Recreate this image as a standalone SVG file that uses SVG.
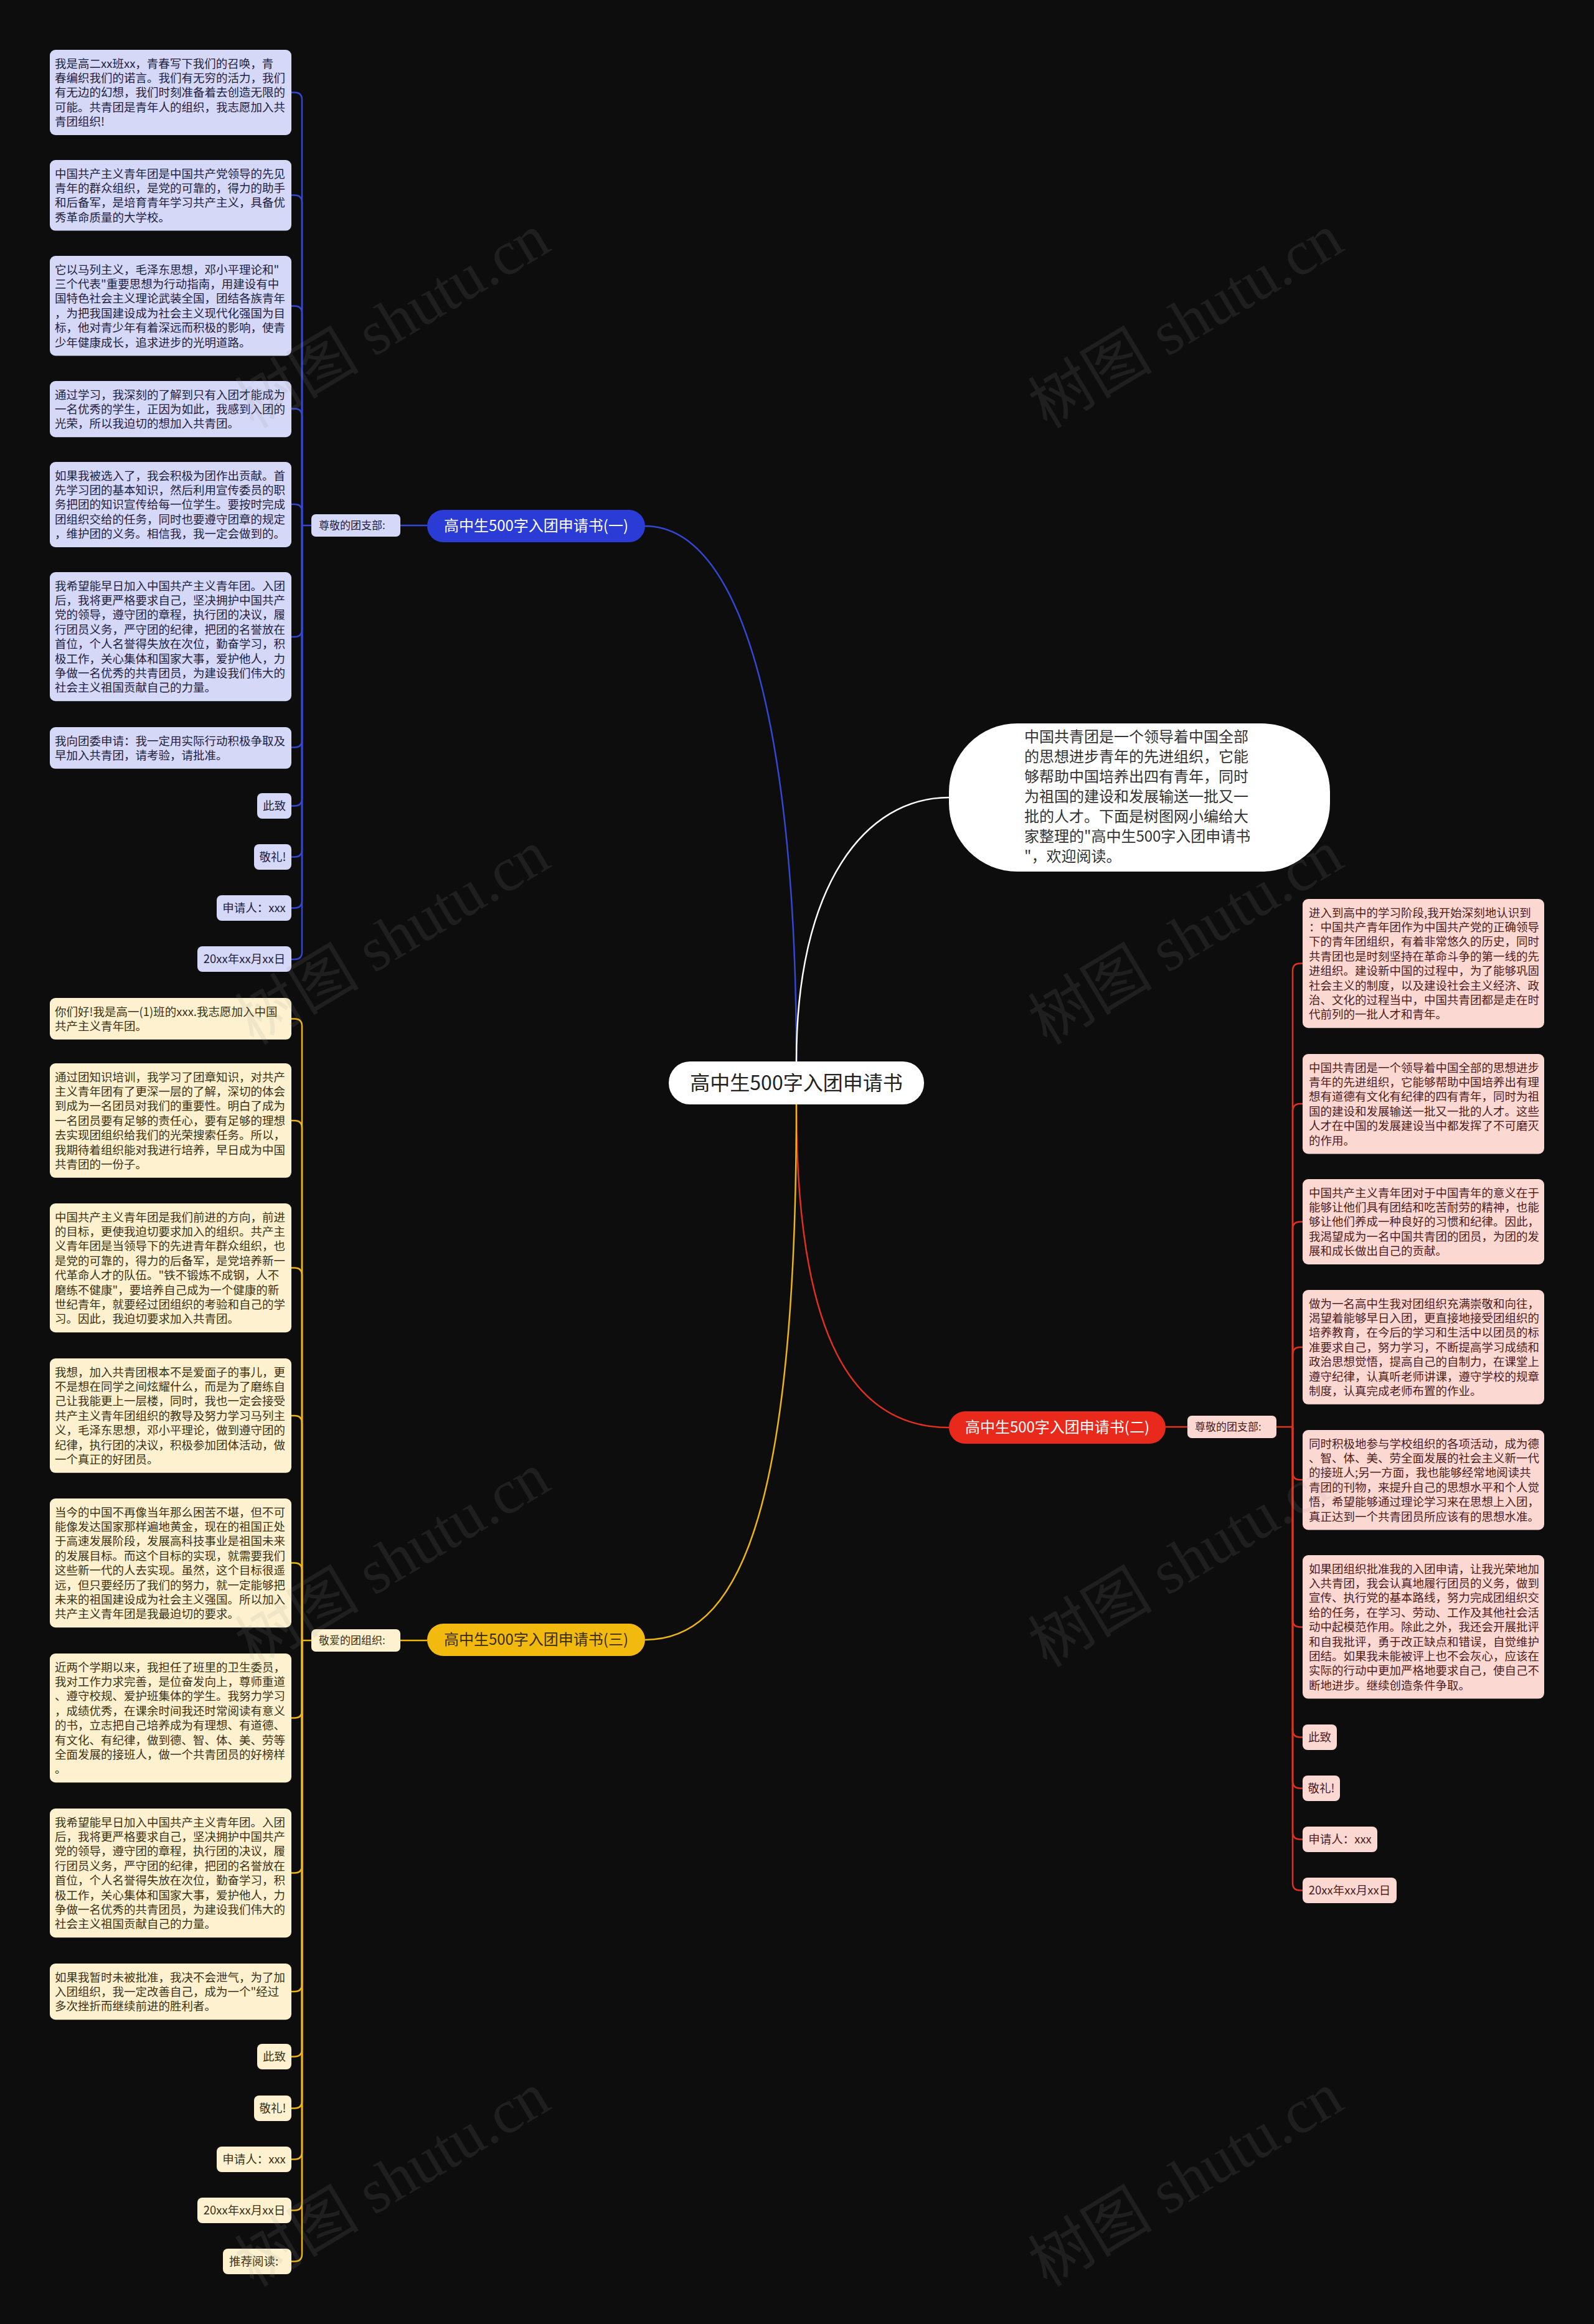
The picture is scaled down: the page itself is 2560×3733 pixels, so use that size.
<svg xmlns="http://www.w3.org/2000/svg" width="2560" height="3733" viewBox="0 0 2560 3733">
<style>
text{font-family:"Noto Sans CJK SC","Noto Sans",sans-serif}
.t{font-size:18.5px}
.bt{fill:#1f2140}.yt{fill:#3b3115}.rt{fill:#4d1c1c}
.bb{fill:#D5D8F7}.yb{fill:#FDF1CF}.rb{fill:#FCD8D3}
.lb{stroke:#3347D2;stroke-width:2.5;fill:none}
.ly{stroke:#EDB514;stroke-width:2.5;fill:none}
.lr{stroke:#E0301E;stroke-width:2.5;fill:none}
.lw{stroke:#ffffff;stroke-width:2.5;fill:none}
.wm{font-family:"Liberation Serif","Noto Sans CJK SC",serif;font-size:100px;fill:#9a9a9a;opacity:0.13}
</style>
<rect x="0" y="0" width="2560" height="3733" fill="#0d0d0d"/>

<g id="connectors">
<path class="lb" d="M1036,845 C1200,845 1279,1200 1279,1705"/>
<path class="lw" d="M1279,1705 C1279,1420 1390,1281 1524,1281"/>
<path class="lr" d="M1279,1774 C1279,2150 1370,2293 1524,2293"/>
<path class="ly" d="M1279,1774 C1279,2450 1180,2634 1036,2634"/>
<path class="lb" d="M643,844 H686"/>
<path class="lr" d="M1872,2292 H1907"/>
<path class="ly" d="M643,2635 H686"/>
<path class="lb" d="M500,844 H485"/>
<path class="lb" d="M485,844 V160.5 Q485,148.5 473,148.5 H468"/>
<path class="lb" d="M485,844 V325.5 Q485,313.5 473,313.5 H468"/>
<path class="lb" d="M485,844 V503.5 Q485,491.5 473,491.5 H468"/>
<path class="lb" d="M485,844 V668.5 Q485,656.5 473,656.5 H468"/>
<path class="lb" d="M485,844 V822 Q485,810 473,810 H468"/>
<path class="lb" d="M485,844 V1011 Q485,1023 473,1023 H468"/>
<path class="lb" d="M485,844 V1188.5 Q485,1200.5 473,1200.5 H468"/>
<path class="lb" d="M485,844 V1282.5 Q485,1294.5 473,1294.5 H468"/>
<path class="lb" d="M485,844 V1364.5 Q485,1376.5 473,1376.5 H468"/>
<path class="lb" d="M485,844 V1446.5 Q485,1458.5 473,1458.5 H468"/>
<path class="lb" d="M485,844 V1529 Q485,1541 473,1541 H468"/>
<path class="ly" d="M500,2635 H485"/>
<path class="ly" d="M485,2635 V1648.5 Q485,1636.5 473,1636.5 H468"/>
<path class="ly" d="M485,2635 V1812 Q485,1800 473,1800 H468"/>
<path class="ly" d="M485,2635 V2048.5 Q485,2036.5 473,2036.5 H468"/>
<path class="ly" d="M485,2635 V2286 Q485,2274 473,2274 H468"/>
<path class="ly" d="M485,2635 V2522.5 Q485,2510.5 473,2510.5 H468"/>
<path class="ly" d="M485,2635 V2747.5 Q485,2759.5 473,2759.5 H468"/>
<path class="ly" d="M485,2635 V2996.5 Q485,3008.5 473,3008.5 H468"/>
<path class="ly" d="M485,2635 V3187 Q485,3199 473,3199 H468"/>
<path class="ly" d="M485,2635 V3291.5 Q485,3303.5 473,3303.5 H468"/>
<path class="ly" d="M485,2635 V3374.5 Q485,3386.5 473,3386.5 H468"/>
<path class="ly" d="M485,2635 V3456.5 Q485,3468.5 473,3468.5 H468"/>
<path class="ly" d="M485,2635 V3538.5 Q485,3550.5 473,3550.5 H468"/>
<path class="ly" d="M485,2635 V3620.5 Q485,3632.5 473,3632.5 H468"/>
<path class="lr" d="M2050,2292 H2076"/>
<path class="lr" d="M2076,2292 V1559.5 Q2076,1547.5 2088,1547.5 H2092"/>
<path class="lr" d="M2076,2292 V1785 Q2076,1773 2088,1773 H2092"/>
<path class="lr" d="M2076,2292 V1974.5 Q2076,1962.5 2088,1962.5 H2092"/>
<path class="lr" d="M2076,2292 V2176 Q2076,2164 2088,2164 H2092"/>
<path class="lr" d="M2076,2292 V2365 Q2076,2377 2088,2377 H2092"/>
<path class="lr" d="M2076,2292 V2601.5 Q2076,2613.5 2088,2613.5 H2092"/>
<path class="lr" d="M2076,2292 V2778.5 Q2076,2790.5 2088,2790.5 H2092"/>
<path class="lr" d="M2076,2292 V2860.5 Q2076,2872.5 2088,2872.5 H2092"/>
<path class="lr" d="M2076,2292 V2942.5 Q2076,2954.5 2088,2954.5 H2092"/>
<path class="lr" d="M2076,2292 V3024.5 Q2076,3036.5 2088,3036.5 H2092"/>
</g>

<g id="center">
<rect x="1074" y="1705" width="410" height="69" rx="34" fill="#ffffff"/>
<text x="1279" y="1751" font-size="32" text-anchor="middle" fill="#222">高中生500字入团申请书</text>
</g>

<g id="intro">
<rect x="1524" y="1162" width="612" height="238" rx="110" fill="#ffffff"/>
<text font-size="24" fill="#333">
<tspan x="1645" y="1192">中国共青团是一个领导着中国全部</tspan>
<tspan x="1645" y="1224">的思想进步青年的先进组织，它能</tspan>
<tspan x="1645" y="1256">够帮助中国培养出四有青年，同时</tspan>
<tspan x="1645" y="1288">为祖国的建设和发展输送一批又一</tspan>
<tspan x="1645" y="1320">批的人才。下面是树图网小编给大</tspan>
<tspan x="1645" y="1352">家整理的"高中生500字入团申请书</tspan>
<tspan x="1645" y="1384">"，欢迎阅读。</tspan>
</text>
</g>

<g id="branch1">
<rect x="686" y="819" width="350" height="52" rx="26" fill="#2B3BD6"/>
<text x="861" y="853" font-size="24" text-anchor="middle" fill="#ffffff">高中生500字入团申请书(一)</text>
</g>
<g id="label1">
<rect x="500" y="826" width="143" height="36" rx="7" class="bb"/>
<text x="512" y="850" font-size="17" class="bt">尊敬的团支部:</text>
</g>

<g id="branch2">
<rect x="1524" y="2267" width="348" height="52" rx="26" fill="#E8291C"/>
<text x="1698" y="2301" font-size="24" text-anchor="middle" fill="#ffffff">高中生500字入团申请书(二)</text>
</g>
<g id="label2">
<rect x="1907" y="2274" width="143" height="36" rx="7" class="rb"/>
<text x="1919" y="2298" font-size="17" class="rt">尊敬的团支部:</text>
</g>

<g id="branch3">
<rect x="686" y="2608" width="350" height="52" rx="26" fill="#F2B90F"/>
<text x="861" y="2642" font-size="24" text-anchor="middle" fill="#3a2d05">高中生500字入团申请书(三)</text>
</g>
<g id="label3">
<rect x="500" y="2617" width="143" height="36" rx="7" class="yb"/>
<text x="512" y="2641" font-size="17" class="yt">敬爱的团组织:</text>
</g>

<g id="b1">
<rect x="80" y="80" width="388" height="137" rx="9" class="bb"/>
<text class="t bt"><tspan x="88" y="108.5">我是高二xx班xx，青春写下我们的召唤，青</tspan><tspan x="88" y="131.9">春编织我们的诺言。我们有无穷的活力，我们</tspan><tspan x="88" y="155.3">有无边的幻想，我们时刻准备着去创造无限的</tspan><tspan x="88" y="178.7">可能。共青团是青年人的组织，我志愿加入共</tspan><tspan x="88" y="202.1">青团组织!</tspan></text>
</g>
<g id="b2">
<rect x="80" y="257" width="388" height="113.6" rx="9" class="bb"/>
<text class="t bt"><tspan x="88" y="285.5">中国共产主义青年团是中国共产党领导的先见</tspan><tspan x="88" y="308.9">青年的群众组织，是党的可靠的，得力的助手</tspan><tspan x="88" y="332.3">和后备军，是培育青年学习共产主义，具备优</tspan><tspan x="88" y="355.7">秀革命质量的大学校。</tspan></text>
</g>
<g id="b3">
<rect x="80" y="411" width="388" height="160.4" rx="9" class="bb"/>
<text class="t bt"><tspan x="88" y="439.5">它以马列主义，毛泽东思想，邓小平理论和"</tspan><tspan x="88" y="462.9">三个代表"重要思想为行动指南，用建设有中</tspan><tspan x="88" y="486.3">国特色社会主义理论武装全国，团结各族青年</tspan><tspan x="88" y="509.7">，为把我国建设成为社会主义现代化强国为目</tspan><tspan x="88" y="533.1">标，他对青少年有着深远而积极的影响，使青</tspan><tspan x="88" y="556.5">少年健康成长，追求进步的光明道路。</tspan></text>
</g>
<g id="b4">
<rect x="80" y="612" width="388" height="90.2" rx="9" class="bb"/>
<text class="t bt"><tspan x="88" y="640.5">通过学习，我深刻的了解到只有入团才能成为</tspan><tspan x="88" y="663.9">一名优秀的学生，正因为如此，我感到入团的</tspan><tspan x="88" y="687.3">光荣，所以我迫切的想加入共青团。</tspan></text>
</g>
<g id="b5">
<rect x="80" y="742" width="388" height="137" rx="9" class="bb"/>
<text class="t bt"><tspan x="88" y="770.5">如果我被选入了，我会积极为团作出贡献。首</tspan><tspan x="88" y="793.9">先学习团的基本知识，然后利用宣传委员的职</tspan><tspan x="88" y="817.3">务把团的知识宣传给每一位学生。要按时完成</tspan><tspan x="88" y="840.7">团组织交给的任务，同时也要遵守团章的规定</tspan><tspan x="88" y="864.1">，维护团的义务。相信我，我一定会做到的。</tspan></text>
</g>
<g id="b6">
<rect x="80" y="919" width="388" height="207.2" rx="9" class="bb"/>
<text class="t bt"><tspan x="88" y="947.5">我希望能早日加入中国共产主义青年团。入团</tspan><tspan x="88" y="970.9">后，我将更严格要求自己，坚决拥护中国共产</tspan><tspan x="88" y="994.3">党的领导，遵守团的章程，执行团的决议，履</tspan><tspan x="88" y="1017.7">行团员义务，严守团的纪律，把团的名誉放在</tspan><tspan x="88" y="1041.1">首位，个人名誉得失放在次位，勤奋学习，积</tspan><tspan x="88" y="1064.5">极工作，关心集体和国家大事，爱护他人，力</tspan><tspan x="88" y="1087.9">争做一名优秀的共青团员，为建设我们伟大的</tspan><tspan x="88" y="1111.3">社会主义祖国贡献自己的力量。</tspan></text>
</g>
<g id="b7">
<rect x="80" y="1168" width="388" height="66.8" rx="9" class="bb"/>
<text class="t bt"><tspan x="88" y="1196.5">我向团委申请：我一定用实际行动积极争取及</tspan><tspan x="88" y="1219.9">早加入共青团，请考验，请批准。</tspan></text>
</g>
<g id="b8"><rect x="413" y="1274" width="55" height="41" rx="8" class="bb"/><text class="t bt" x="440.5" y="1301" text-anchor="middle">此致</text></g>
<g id="b9"><rect x="408" y="1356" width="60" height="41" rx="8" class="bb"/><text class="t bt" x="438" y="1383" text-anchor="middle">敬礼!</text></g>
<g id="b10"><rect x="348" y="1438" width="120" height="41" rx="8" class="bb"/><text class="t bt" x="408" y="1465" text-anchor="middle">申请人：xxx</text></g>
<g id="b11"><rect x="317" y="1520" width="151" height="41" rx="8" class="bb"/><text class="t bt" x="392.5" y="1547" text-anchor="middle">20xx年xx月xx日</text></g>

<g id="y1">
<rect x="80" y="1603" width="388" height="66.8" rx="9" class="yb"/>
<text class="t yt"><tspan x="88" y="1631.5">你们好!我是高一(1)班的xxx.我志愿加入中国</tspan><tspan x="88" y="1654.9">共产主义青年团。</tspan></text>
</g>
<g id="y2">
<rect x="80" y="1708" width="388" height="183.8" rx="9" class="yb"/>
<text class="t yt"><tspan x="88" y="1736.5">通过团知识培训，我学习了团章知识，对共产</tspan><tspan x="88" y="1759.9">主义青年团有了更深一层的了解，深切的体会</tspan><tspan x="88" y="1783.3">到成为一名团员对我们的重要性。明白了成为</tspan><tspan x="88" y="1806.7">一名团员要有足够的责任心，要有足够的理想</tspan><tspan x="88" y="1830.1">去实现团组织给我们的光荣搜索任务。所以，</tspan><tspan x="88" y="1853.5">我期待着组织能对我进行培养，早日成为中国</tspan><tspan x="88" y="1876.9">共青团的一份子。</tspan></text>
</g>
<g id="y3">
<rect x="80" y="1933" width="388" height="207.2" rx="9" class="yb"/>
<text class="t yt"><tspan x="88" y="1961.5">中国共产主义青年团是我们前进的方向，前进</tspan><tspan x="88" y="1984.9">的目标，更使我迫切要求加入的组织。共产主</tspan><tspan x="88" y="2008.3">义青年团是当领导下的先进青年群众组织，也</tspan><tspan x="88" y="2031.7">是党的可靠的，得力的后备军，是党培养新一</tspan><tspan x="88" y="2055.1">代革命人才的队伍。"铁不锻炼不成钢，人不</tspan><tspan x="88" y="2078.5">磨练不健康"，要培养自己成为一个健康的新</tspan><tspan x="88" y="2101.9">世纪青年，就要经过团组织的考验和自己的学</tspan><tspan x="88" y="2125.3">习。因此，我迫切要求加入共青团。</tspan></text>
</g>
<g id="y4">
<rect x="80" y="2182" width="388" height="183.8" rx="9" class="yb"/>
<text class="t yt"><tspan x="88" y="2210.5">我想，加入共青团根本不是爱面子的事儿，更</tspan><tspan x="88" y="2233.9">不是想在同学之间炫耀什么，而是为了磨练自</tspan><tspan x="88" y="2257.3">己让我能更上一层楼，同时，我也一定会接受</tspan><tspan x="88" y="2280.7">共产主义青年团组织的教导及努力学习马列主</tspan><tspan x="88" y="2304.1">义，毛泽东思想，邓小平理论，做到遵守团的</tspan><tspan x="88" y="2327.5">纪律，执行团的决议，积极参加团体活动，做</tspan><tspan x="88" y="2350.9">一个真正的好团员。</tspan></text>
</g>
<g id="y5">
<rect x="80" y="2407" width="388" height="207.2" rx="9" class="yb"/>
<text class="t yt"><tspan x="88" y="2435.5">当今的中国不再像当年那么困苦不堪，但不可</tspan><tspan x="88" y="2458.9">能像发达国家那样遍地黄金，现在的祖国正处</tspan><tspan x="88" y="2482.3">于高速发展阶段，发展高科技事业是祖国未来</tspan><tspan x="88" y="2505.7">的发展目标。而这个目标的实现，就需要我们</tspan><tspan x="88" y="2529.1">这些新一代的人去实现。虽然，这个目标很遥</tspan><tspan x="88" y="2552.5">远，但只要经历了我们的努力，就一定能够把</tspan><tspan x="88" y="2575.9">未来的祖国建设成为社会主义强国。所以加入</tspan><tspan x="88" y="2599.3">共产主义青年团是我最迫切的要求。</tspan></text>
</g>
<g id="y6">
<rect x="80" y="2656" width="388" height="207.2" rx="9" class="yb"/>
<text class="t yt"><tspan x="88" y="2684.5">近两个学期以来，我担任了班里的卫生委员，</tspan><tspan x="88" y="2707.9">我对工作力求完善，是位奋发向上，尊师重道</tspan><tspan x="88" y="2731.3">、遵守校规、爱护班集体的学生。我努力学习</tspan><tspan x="88" y="2754.7">，成绩优秀，在课余时间我还时常阅读有意义</tspan><tspan x="88" y="2778.1">的书，立志把自己培养成为有理想、有道德、</tspan><tspan x="88" y="2801.5">有文化、有纪律，做到德、智、体、美、劳等</tspan><tspan x="88" y="2824.9">全面发展的接班人，做一个共青团员的好榜样</tspan><tspan x="88" y="2848.3">。</tspan></text>
</g>
<g id="y7">
<rect x="80" y="2905" width="388" height="207.2" rx="9" class="yb"/>
<text class="t yt"><tspan x="88" y="2933.5">我希望能早日加入中国共产主义青年团。入团</tspan><tspan x="88" y="2956.9">后，我将更严格要求自己，坚决拥护中国共产</tspan><tspan x="88" y="2980.3">党的领导，遵守团的章程，执行团的决议，履</tspan><tspan x="88" y="3003.7">行团员义务，严守团的纪律，把团的名誉放在</tspan><tspan x="88" y="3027.1">首位，个人名誉得失放在次位，勤奋学习，积</tspan><tspan x="88" y="3050.5">极工作，关心集体和国家大事，爱护他人，力</tspan><tspan x="88" y="3073.9">争做一名优秀的共青团员，为建设我们伟大的</tspan><tspan x="88" y="3097.3">社会主义祖国贡献自己的力量。</tspan></text>
</g>
<g id="y8">
<rect x="80" y="3154" width="388" height="90.2" rx="9" class="yb"/>
<text class="t yt"><tspan x="88" y="3182.5">如果我暂时未被批准，我决不会泄气，为了加</tspan><tspan x="88" y="3205.9">入团组织，我一定改善自己，成为一个"经过</tspan><tspan x="88" y="3229.3">多次挫折而继续前进的胜利者。</tspan></text>
</g>
<g id="y9"><rect x="413" y="3283" width="55" height="41" rx="8" class="yb"/><text class="t yt" x="440.5" y="3310" text-anchor="middle">此致</text></g>
<g id="y10"><rect x="408" y="3366" width="60" height="41" rx="8" class="yb"/><text class="t yt" x="438" y="3393" text-anchor="middle">敬礼!</text></g>
<g id="y11"><rect x="348" y="3448" width="120" height="41" rx="8" class="yb"/><text class="t yt" x="408" y="3475" text-anchor="middle">申请人：xxx</text></g>
<g id="y12"><rect x="317" y="3530" width="151" height="41" rx="8" class="yb"/><text class="t yt" x="392.5" y="3557" text-anchor="middle">20xx年xx月xx日</text></g>
<g id="y13"><rect x="358" y="3612" width="110" height="41" rx="8" class="yb"/><text class="t yt" x="368" y="3639">推荐阅读:</text></g>

<g id="r1">
<rect x="2092" y="1444" width="388" height="207.2" rx="9" class="rb"/>
<text class="t rt"><tspan x="2102" y="1472.5">进入到高中的学习阶段,我开始深刻地认识到</tspan><tspan x="2102" y="1495.9">：中国共产青年团作为中国共产党的正确领导</tspan><tspan x="2102" y="1519.3">下的青年团组织，有着非常悠久的历史，同时</tspan><tspan x="2102" y="1542.7">共青团也是时刻坚持在革命斗争的第一线的先</tspan><tspan x="2102" y="1566.1">进组织。建设新中国的过程中，为了能够巩固</tspan><tspan x="2102" y="1589.5">社会主义的制度，以及建设社会主义经济、政</tspan><tspan x="2102" y="1612.9">治、文化的过程当中，中国共青团都是走在时</tspan><tspan x="2102" y="1636.3">代前列的一批人才和青年。</tspan></text>
</g>
<g id="r2">
<rect x="2092" y="1693" width="388" height="160.4" rx="9" class="rb"/>
<text class="t rt"><tspan x="2102" y="1721.5">中国共青团是一个领导着中国全部的思想进步</tspan><tspan x="2102" y="1744.9">青年的先进组织，它能够帮助中国培养出有理</tspan><tspan x="2102" y="1768.3">想有道德有文化有纪律的四有青年，同时为祖</tspan><tspan x="2102" y="1791.7">国的建设和发展输送一批又一批的人才。这些</tspan><tspan x="2102" y="1815.1">人才在中国的发展建设当中都发挥了不可磨灭</tspan><tspan x="2102" y="1838.5">的作用。</tspan></text>
</g>
<g id="r3">
<rect x="2092" y="1894" width="388" height="137" rx="9" class="rb"/>
<text class="t rt"><tspan x="2102" y="1922.5">中国共产主义青年团对于中国青年的意义在于</tspan><tspan x="2102" y="1945.9">能够让他们具有团结和吃苦耐劳的精神，也能</tspan><tspan x="2102" y="1969.3">够让他们养成一种良好的习惯和纪律。因此，</tspan><tspan x="2102" y="1992.7">我渴望成为一名中国共青团的团员，为团的发</tspan><tspan x="2102" y="2016.1">展和成长做出自己的贡献。</tspan></text>
</g>
<g id="r4">
<rect x="2092" y="2072" width="388" height="183.8" rx="9" class="rb"/>
<text class="t rt"><tspan x="2102" y="2100.5">做为一名高中生我对团组织充满崇敬和向往，</tspan><tspan x="2102" y="2123.9">渴望着能够早日入团，更直接地接受团组织的</tspan><tspan x="2102" y="2147.3">培养教育，在今后的学习和生活中以团员的标</tspan><tspan x="2102" y="2170.7">准要求自己，努力学习，不断提高学习成绩和</tspan><tspan x="2102" y="2194.1">政治思想觉悟，提高自己的自制力，在课堂上</tspan><tspan x="2102" y="2217.5">遵守纪律，认真听老师讲课，遵守学校的规章</tspan><tspan x="2102" y="2240.9">制度，认真完成老师布置的作业。</tspan></text>
</g>
<g id="r5">
<rect x="2092" y="2297" width="388" height="160.4" rx="9" class="rb"/>
<text class="t rt"><tspan x="2102" y="2325.5">同时积极地参与学校组织的各项活动，成为德</tspan><tspan x="2102" y="2348.9">、智、体、美、劳全面发展的社会主义新一代</tspan><tspan x="2102" y="2372.3">的接班人;另一方面，我也能够经常地阅读共</tspan><tspan x="2102" y="2395.7">青团的刊物，来提升自己的思想水平和个人觉</tspan><tspan x="2102" y="2419.1">悟，希望能够通过理论学习来在思想上入团，</tspan><tspan x="2102" y="2442.5">真正达到一个共青团员所应该有的思想水准。</tspan></text>
</g>
<g id="r6">
<rect x="2092" y="2498" width="388" height="230.6" rx="9" class="rb"/>
<text class="t rt"><tspan x="2102" y="2526.5">如果团组织批准我的入团申请，让我光荣地加</tspan><tspan x="2102" y="2549.9">入共青团，我会认真地履行团员的义务，做到</tspan><tspan x="2102" y="2573.3">宣传、执行党的基本路线，努力完成团组织交</tspan><tspan x="2102" y="2596.7">给的任务，在学习、劳动、工作及其他社会活</tspan><tspan x="2102" y="2620.1">动中起模范作用。除此之外，我还会开展批评</tspan><tspan x="2102" y="2643.5">和自我批评，勇于改正缺点和错误，自觉维护</tspan><tspan x="2102" y="2666.9">团结。如果我未能被评上也不会灰心，应该在</tspan><tspan x="2102" y="2690.3">实际的行动中更加严格地要求自己，使自己不</tspan><tspan x="2102" y="2713.7">断地进步。继续创造条件争取。</tspan></text>
</g>
<g id="r7"><rect x="2092" y="2770" width="55" height="41" rx="8" class="rb"/><text class="t rt" x="2119.5" y="2797" text-anchor="middle">此致</text></g>
<g id="r8"><rect x="2092" y="2852" width="60" height="41" rx="8" class="rb"/><text class="t rt" x="2122" y="2879" text-anchor="middle">敬礼!</text></g>
<g id="r9"><rect x="2092" y="2934" width="120" height="41" rx="8" class="rb"/><text class="t rt" x="2152" y="2961" text-anchor="middle">申请人：xxx</text></g>
<g id="r10"><rect x="2092" y="3016" width="151" height="41" rx="8" class="rb"/><text class="t rt" x="2167.5" y="3043" text-anchor="middle">20xx年xx月xx日</text></g>

<g id="watermarks">
<text class="wm" text-anchor="middle" transform="translate(648,545) rotate(-31)">树图 shutu.cn</text>
<text class="wm" text-anchor="middle" transform="translate(1922,545) rotate(-31)">树图 shutu.cn</text>
<text class="wm" text-anchor="middle" transform="translate(648,1535) rotate(-31)">树图 shutu.cn</text>
<text class="wm" text-anchor="middle" transform="translate(1922,1535) rotate(-31)">树图 shutu.cn</text>
<text class="wm" text-anchor="middle" transform="translate(648,2535) rotate(-31)">树图 shutu.cn</text>
<text class="wm" text-anchor="middle" transform="translate(1922,2535) rotate(-31)">树图 shutu.cn</text>
<text class="wm" text-anchor="middle" transform="translate(648,3530) rotate(-31)">树图 shutu.cn</text>
<text class="wm" text-anchor="middle" transform="translate(1922,3530) rotate(-31)">树图 shutu.cn</text>
</g>
</svg>
